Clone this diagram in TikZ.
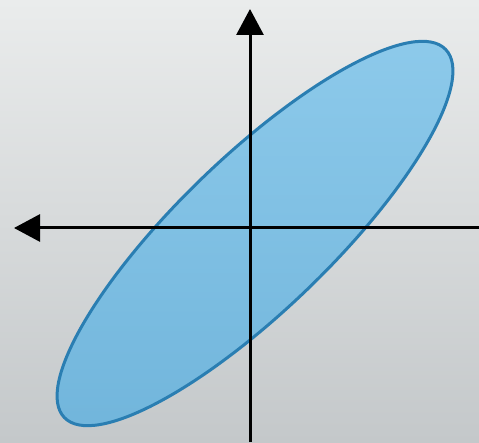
\documentclass[tikz,border=0pt]{standalone}
\usepackage{tikz}
\usetikzlibrary{arrows.meta}
\usepackage{xcolor}
\definecolor{bgtop}{HTML}{EAECEC}
\definecolor{bgbottom}{HTML}{C4C8CA}
\definecolor{elltop}{HTML}{8CC9EA}
\definecolor{ellbottom}{HTML}{72B6DC}
\definecolor{ellline}{HTML}{2A7EB2}

\begin{document}
\begin{tikzpicture}[x=1pt, y=1pt, >={Triangle[length=26pt, width=27pt]}]
    % Background
    \shade[top color=bgtop, bottom color=bgbottom] (0, 0) rectangle (479, 442);
    \useasboundingbox (0, 0) rectangle (479, 442);

    % Tilted ellipse
    \coordinate (c) at (255, 208.5);
    \shade[top color=elltop, bottom color=ellbottom, draw=ellline, line width=3pt]
        (c) ellipse [x radius=265, y radius=76.5, rotate=44];

    % Axes
    \coordinate (ybot) at (250, 0);
    \coordinate (ytop) at (250, 433);
    \coordinate (xright) at (479, 214);
    \coordinate (xleft) at (14, 214);
    \draw[->, line width=3pt, black] (ybot) -- (ytop);
    \draw[->, line width=3pt, black] (xright) -- (xleft);
\end{tikzpicture}
\end{document}
